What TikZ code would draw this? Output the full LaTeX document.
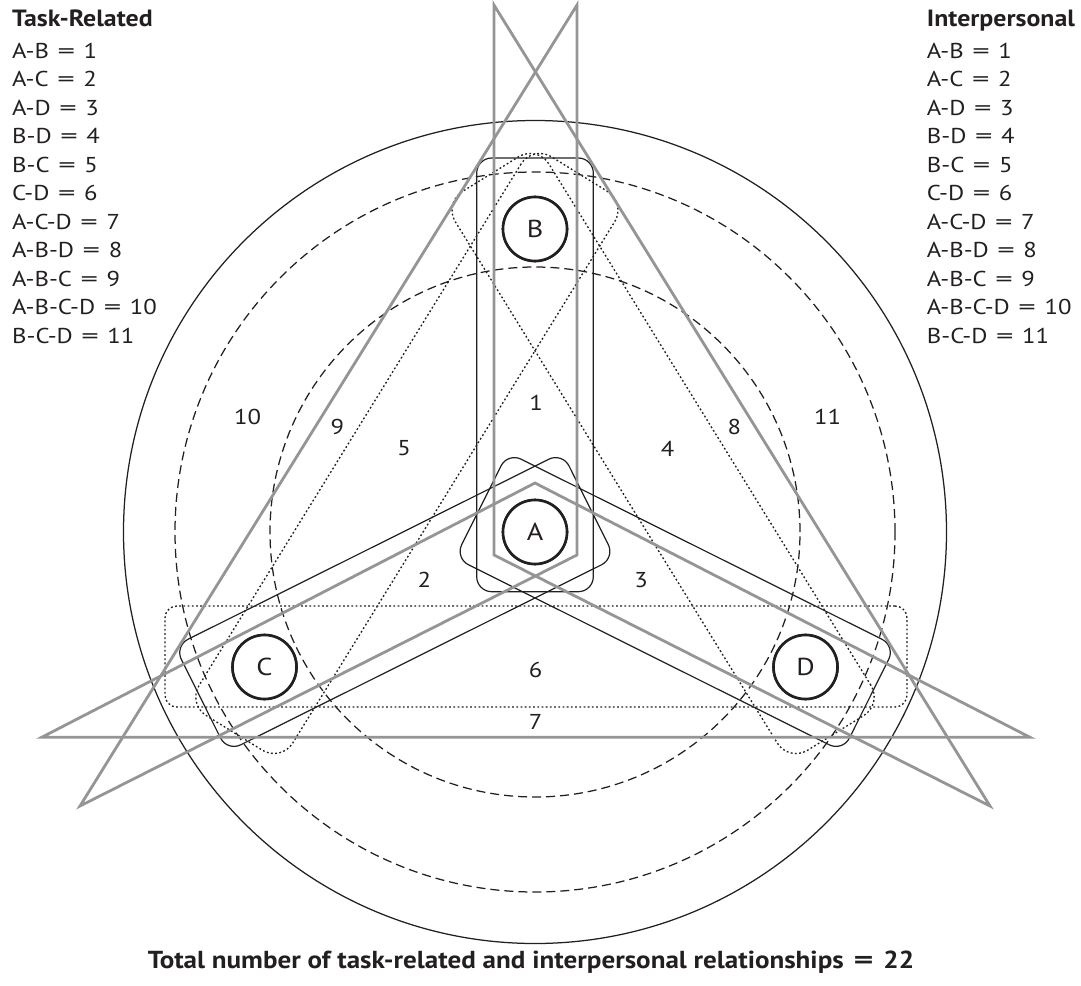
\documentclass[tikz,border=0pt]{standalone}
\usepackage{fontspec}
\usepackage{graphicx}
\setmainfont{PT Sans}
\newfontfamily\listfont{PT Sans}[FakeStretch=1.15]
\newfontfamily\headfont{PT Sans}[FakeStretch=1.1]
\usetikzlibrary{calc}
\definecolor{ink}{HTML}{231F20}
\definecolor{graystroke}{HTML}{959595}
\newcommand\eqsign{\hspace{0.4em}\scalebox{1.4}[1]{=}\hspace{0.4em}}
\begin{document}
\begin{tikzpicture}[x=1pt,y=-1pt,
  every node/.style={font=\listfont\fontsize{21.5}{25}\selectfont, text=ink},
  person/.style={circle, draw=ink, line width=2.6pt, minimum size=64pt, inner sep=0pt, fill=white, font=\listfont\fontsize{24.5}{28}\selectfont},
  pairbox/.style={draw=ink, line width=1.2pt, rounded corners=15pt, minimum height=118pt, inner sep=0pt},
  dotbox/.style={draw=ink, line width=1.35pt, dash pattern=on 1.8pt off 2.4pt, inner sep=0pt},
  ring/.style={draw=ink, line width=1.25pt, dash pattern=on 9pt off 5pt},
  outerring/.style={draw=ink, line width=1.25pt},
  trio/.style={draw=graystroke, line width=2.8pt, line join=miter},
  num/.style={inner sep=0pt},
  listhead/.style={anchor=base west, inner sep=0pt, font=\headfont\fontsize{23.5}{27}\selectfont\bfseries},
  listitem/.style={anchor=base west, inner sep=0pt}
]
\useasboundingbox (0,0) rectangle (1081,985);

% people
\node[person] (A) at (535,532) {A};
\node[person] (B) at (535,229) {B};
\node[person] (C) at (264.5,667) {C};
\node[person] (D) at (805.5,667) {D};

% circles
\draw[outerring] (A.center) circle[radius=411.5pt];
\draw[ring] (A.center) circle[radius=360pt];
\draw[ring] (A.center) circle[radius=265pt];

% pair boxes (task-related, black)
\node[pairbox, minimum width=433.7pt, minimum height=116.6pt, rotate=90] (AB) at (535,374.85) {};
\node[pairbox, minimum width=433.3pt, rotate=26.52] (AC) at (394.8,602.0) {};
\node[pairbox, minimum width=433.3pt, rotate=-26.52] (AD) at (675.2,602.0) {};

% dotted pair boxes
\node[dotbox, rounded corners=22pt, minimum width=656.8pt, minimum height=110pt, rotate=58.3] (BC) at (406.9,453.5) {};
\node[dotbox, rounded corners=22pt, minimum width=656.8pt, minimum height=110pt, rotate=-58.3] (BD) at (663.1,453.5) {};
\node[dotbox, rounded corners=12pt, minimum width=742pt, minimum height=101pt] (CD) at (536,656.5) {};

% gray triangles (interpersonal)
\coordinate (p9a) at (577,5);
\coordinate (p9b) at (577,555);
\coordinate (p9c) at (80,806);
\coordinate (p8a) at (494,5);
\coordinate (p8b) at (494,555);
\coordinate (p8c) at (990,806);
\coordinate (p7a) at (41.7,737.3);
\coordinate (p7b) at (535,483);
\coordinate (p7c) at (1030,737.3);
\draw[trio] (p9a) -- (p9b) -- (p9c) -- cycle;
\draw[trio] (p8a) -- (p8b) -- (p8c) -- cycle;
\draw[trio] (p7a) -- (p7b) -- (p7c) -- cycle;

% redraw people on top
\node[person] at (A.center) {A};
\node[person] at (B.center) {B};
\node[person] at (C.center) {C};
\node[person] at (D.center) {D};

% region numbers
\node[num] (n1) at (536,403) {1};
\node[num] (n2) at (424.3,580) {2};
\node[num] (n3) at (641,580) {3};
\node[num] (n4) at (667.7,449) {4};
\node[num] (n5) at (404,448) {5};
\node[num] (n6) at (535.7,670) {6};
\node[num] (n7) at (535.7,721.7) {7};
\node[num] (n8) at (734.3,426.7) {8};
\node[num] (n9) at (337.3,426.7) {9};
\node[num] (n10) at (247.7,416.7) {10};
\node[num] (n11) at (827.7,416.7) {11};

% left list
\node[listhead] (lh) at (12,27) {Task-Related};
\foreach \t/\v [count=\i from 0] in {A-B/1, A-C/2, A-D/3, B-D/4, B-C/5, C-D/6, A-C-D/7, A-B-D/8, A-B-C/9, A-B-C-D/10, B-C-D/11}
  \node[listitem] (l\i) at (12,58.3+28.5*\i) {\t\eqsign\v};

% right list
\node[listhead] (rh) at (926.7,27) {Interpersonal};
\foreach \t/\v [count=\i from 0] in {A-B/1, A-C/2, A-D/3, B-D/4, B-C/5, C-D/6, A-C-D/7, A-B-D/8, A-B-C/9, A-B-C-D/10, B-C-D/11}
  \node[listitem] (r\i) at (926.7,58.3+28.5*\i) {\t\eqsign\v};

% total
\node[font=\headfont\fontsize{24.6}{29}\selectfont\bfseries] (total) at (531,962) {Total number of task-related and interpersonal relationships\eqsign 22};
\end{tikzpicture}
\end{document}
